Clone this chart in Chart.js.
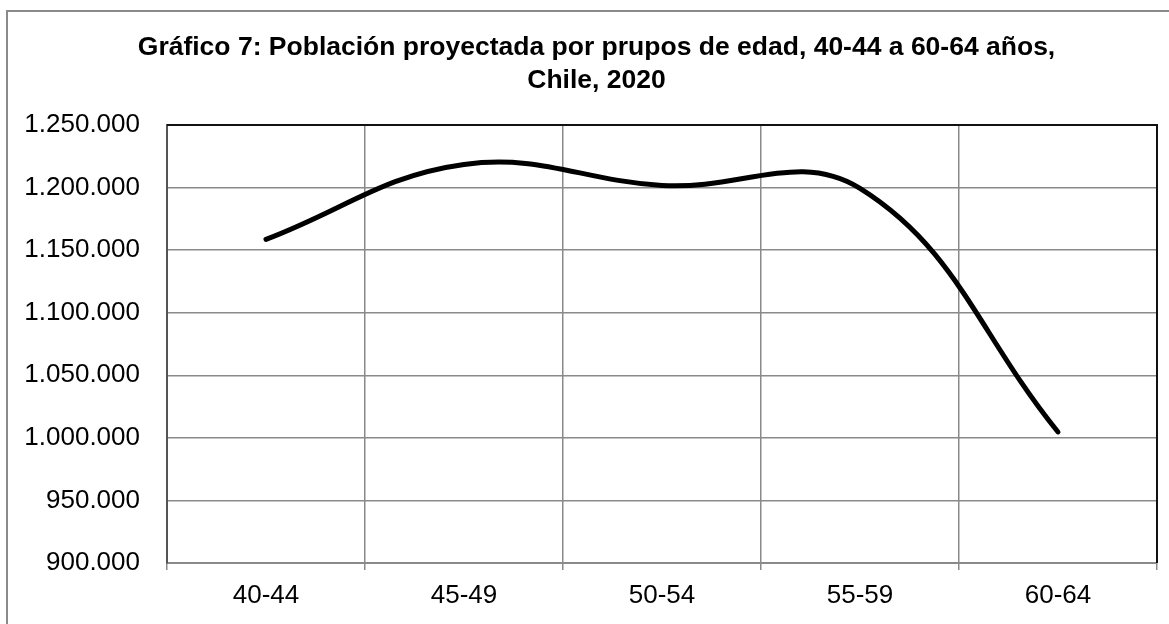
<!DOCTYPE html>
<html>
<head>
<meta charset="utf-8">
<script src="https://cdn.jsdelivr.net/npm/chart.js@4"></script>
<style>
  html, body { margin: 0; padding: 0; background: #fff; }
  #wrap { width: 1169px; height: 624px; position: relative; }
</style>
</head>
<body>
<div id="wrap"><canvas id="grafico"></canvas></div>
<script>
// datos
const gruposEdad = ['40-44', '45-49', '50-54', '55-59', '60-64'];
const poblacion = [1158600, 1218500, 1201700, 1199300, 1004700];
const tituloLineas = ['Gráfico 7: Población proyectada por prupos de edad, 40-44 a 60-64 años,', 'Chile, 2020'];

const FONT = '"Liberation Sans", Arial, sans-serif';

function miles(v) {
  return String(v).replace(/\B(?=(\d{3})+(?!\d))/g, '.');
}

// marco exterior y borde superior/derecho del área de trazado
const marcos = {
  id: 'marcos',
  afterLayout(chart) {
    // el título del original está algo corrido a la derecha
    if (chart.titleBlock) chart.titleBlock.left += 16;
  },
  beforeDraw(chart) {
    const c = chart.ctx;
    c.save();
    c.strokeStyle = '#8a8a8a';
    c.lineWidth = 2;
    c.beginPath();
    c.moveTo(7, 624);
    c.lineTo(7, 11);
    c.lineTo(1169, 11);
    c.stroke();
    c.restore();
  },
  afterDatasetsDraw(chart) {
    const a = chart.chartArea;
    const c = chart.ctx;
    c.save();
    c.strokeStyle = '#111';
    c.lineWidth = 2;
    c.beginPath();
    c.moveTo(a.left, a.top);
    c.lineTo(a.right, a.top);
    c.lineTo(a.right, a.bottom);
    c.stroke();
    c.restore();
  }
};

new Chart(document.getElementById('grafico'), {
  type: 'line',
  data: {
    labels: gruposEdad,
    datasets: [{
      data: poblacion,
      borderColor: '#000',
      borderWidth: 5,
      borderCapStyle: 'round',
      tension: 0.4,
      pointRadius: 0,
      fill: false
    }]
  },
  options: {
    responsive: true,
    maintainAspectRatio: false,
    animation: false,
    layout: { padding: { left: 20, right: 12, top: 0, bottom: 0 } },
    plugins: {
      legend: { display: false },
      tooltip: { enabled: false },
      title: {
        display: true,
        text: tituloLineas,
        color: '#000',
        font: { family: FONT, size: 26.5, weight: 'bold', lineHeight: '33px' },
        padding: { top: 31, bottom: 28 }
      }
    },
    scales: {
      x: {
        offset: true,
        grid: {
          offset: true,
          color: '#8a8a8a',
          lineWidth: 1.5,
          tickLength: 7,
          drawTicks: true
        },
        border: { color: '#8a8a8a', width: 2 },
        ticks: {
          color: '#000',
          font: { family: FONT, size: 26 },
          padding: 10,
          maxRotation: 0
        },
        afterFit(scale) { scale.height = 61; }
      },
      y: {
        min: 900000,
        max: 1250000,
        grid: { color: '#8a8a8a', lineWidth: 1.5, drawTicks: false },
        border: { color: '#555', width: 2 },
        ticks: {
          stepSize: 50000,
          color: '#000',
          font: { family: FONT, size: 26 },
          padding: 27,
          callback: (v) => miles(v)
        },
        afterFit(scale) { scale.width = 147; }
      }
    }
  },
  plugins: [marcos]
});
</script>
</body>
</html>
